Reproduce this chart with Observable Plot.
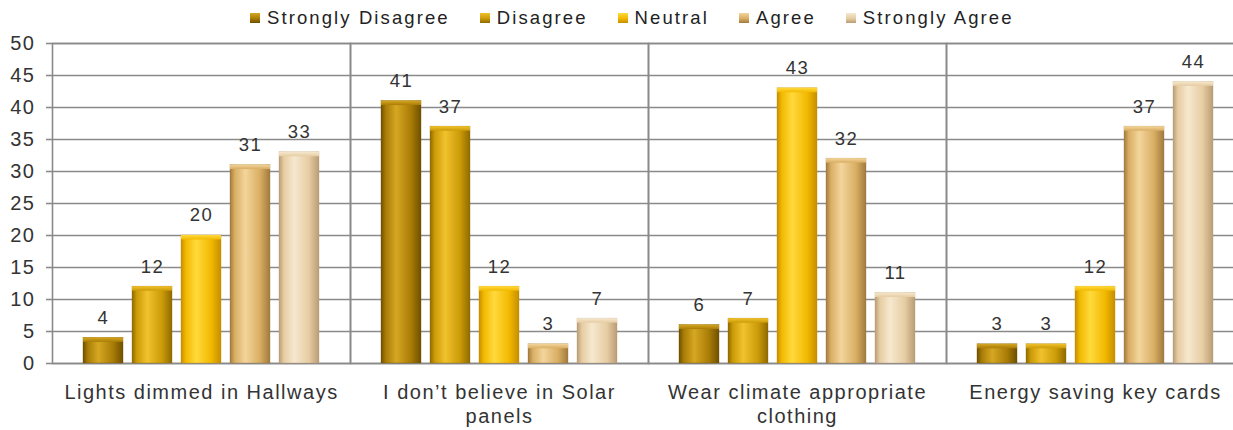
<!DOCTYPE html>
<html>
<head>
<meta charset="utf-8">
<script src="https://cdn.jsdelivr.net/npm/d3@7"></script>
<script src="https://cdn.jsdelivr.net/npm/@observablehq/plot@0.6"></script>
<style>
  html, body { margin: 0; padding: 0; background: #fff; overflow: hidden; }
  #wrap { position: relative; width: 1244px; height: 430px; font-family: "Liberation Sans", Arial, sans-serif; }
  #legend { position: absolute; top: 7px; left: 250px; display: flex; gap: 30px; font-size: 18.5px; letter-spacing: 2.1px; color: #222; line-height: 22px; }
  #legend .item { display: flex; align-items: center; white-space: nowrap; }
  #legend .sw { width: 10px; height: 10px; display: inline-block; margin-right: 7px; }
  #chart svg text { letter-spacing: 1.5px; }
</style>
</head>
<body>
<svg width="0" height="0" style="position:absolute">
  <defs id="gdefs"></defs>
</svg>
<div id="wrap">
  <div id="chart"></div>
  <div id="legend"></div>
</div>
<script>
// ---- data ----
const categories = ["Lights dimmed in Hallways", "I don’t believe in Solar panels", "Wear climate appropriate clothing", "Energy saving key cards"];
const categoryLabels = ["Lights dimmed in Hallways", "I don’t believe in Solar\npanels", "Wear climate appropriate\nclothing", "Energy saving key cards"];
const series = ["Strongly Disagree", "Disagree", "Neutral", "Agree", "Strongly Agree"];
const stronglyDisagree = [4, 41, 6, 3];
const disagree = [12, 37, 7, 3];
const neutral = [20, 12, 43, 12];
const agree = [31, 3, 32, 37];
const stronglyAgree = [33, 7, 11, 44];
const yTicks = [0, 5, 10, 15, 20, 25, 30, 35, 40, 45, 50];

// ---- styles ----
const baseColors = ["#A97C06", "#CC9B08", "#F2B900", "#D9AE63", "#E6CCA2"];
const lightColors = ["#D6A722", "#F0C22C", "#FFDA3C", "#F3D59C", "#F6E8CF"];
const darkColors = ["#6F5000", "#8F6A00", "#C68E00", "#A07A3E", "#B89C75"];

const seriesValues = [stronglyDisagree, disagree, neutral, agree, stronglyAgree];
const data = [];
series.forEach((s, si) => {
  categories.forEach((c, ci) => data.push({series: s, si, category: c, value: seriesValues[si][ci]}));
});

// gradients
const defs = document.getElementById("gdefs");
let defsHtml = "";
series.forEach((s, i) => {
  defsHtml += `<linearGradient id="g${i}" x1="0" x2="1" y1="0" y2="0">
    <stop offset="0%" stop-color="${darkColors[i]}"/>
    <stop offset="12%" stop-color="${baseColors[i]}"/>
    <stop offset="38%" stop-color="${lightColors[i]}"/>
    <stop offset="75%" stop-color="${baseColors[i]}"/>
    <stop offset="100%" stop-color="${darkColors[i]}"/>
  </linearGradient>
  <linearGradient id="c${i}" x1="0" x2="0" y1="0" y2="1">
    <stop offset="0%" stop-color="${lightColors[i]}"/>
    <stop offset="100%" stop-color="${baseColors[i]}"/>
  </linearGradient>`;
});
defs.innerHTML = defsHtml;

const gridColor = "#8a8a8a";
const marks = [
  Plot.ruleY(yTicks, {y: d => d, stroke: gridColor, strokeWidth: 1.6}),
  Plot.frame({stroke: gridColor, strokeWidth: 1.6})
];
series.forEach((s, i) => {
  const d = data.filter(r => r.si === i);
  marks.push(Plot.barY(d, {fx: "category", x: "series", y: "value", fill: `url(#g${i})`, stroke: darkColors[i], strokeWidth: 0.6, strokeOpacity: 0.6}));
  marks.push(Plot.barY(d, {fx: "category", x: "series", y1: r => r.value - 0.7, y2: "value", fill: `url(#c${i})`}));
});
marks.push(Plot.text(data, {fx: "category", x: "series", y: "value", text: d => String(d.value), dy: -20, fontSize: 18.5, fill: "#333"}));
marks.push(Plot.axisY({ticks: yTicks, tickSize: 6, tickPadding: 11, fontSize: 20, stroke: gridColor, strokeWidth: 1.6, color: "#333", label: null}));
marks.push(Plot.axisFx({anchor: "bottom", tickSize: 0, tickPadding: 18, fontSize: 20, lineHeight: 1.22, color: "#333", tickFormat: c => categoryLabels[categories.indexOf(c)], label: null}));

const chart = Plot.plot({
  width: 1244,
  height: 430,
  marginTop: 43,
  marginBottom: 67,
  marginLeft: 51,
  marginRight: 0,
  style: {fontFamily: "'Liberation Sans', Arial, sans-serif", background: "#fff"},
  fx: {domain: categories, padding: 0, label: null},
  x: {domain: series, paddingInner: 0.19, paddingOuter: 0.61, axis: null},
  y: {domain: [0, 50], axis: null},
  marks
});
document.getElementById("chart").appendChild(chart);

// legend
const legend = document.getElementById("legend");
series.forEach((s, i) => {
  const item = document.createElement("div");
  item.className = "item";
  const sw = document.createElement("span");
  sw.className = "sw";
  sw.style.background = `linear-gradient(180deg, ${lightColors[i]}, ${baseColors[i]} 55%, ${darkColors[i]})`;
  const t = document.createElement("span");
  t.textContent = s;
  item.appendChild(sw);
  item.appendChild(t);
  legend.appendChild(item);
});
</script>
</body>
</html>
